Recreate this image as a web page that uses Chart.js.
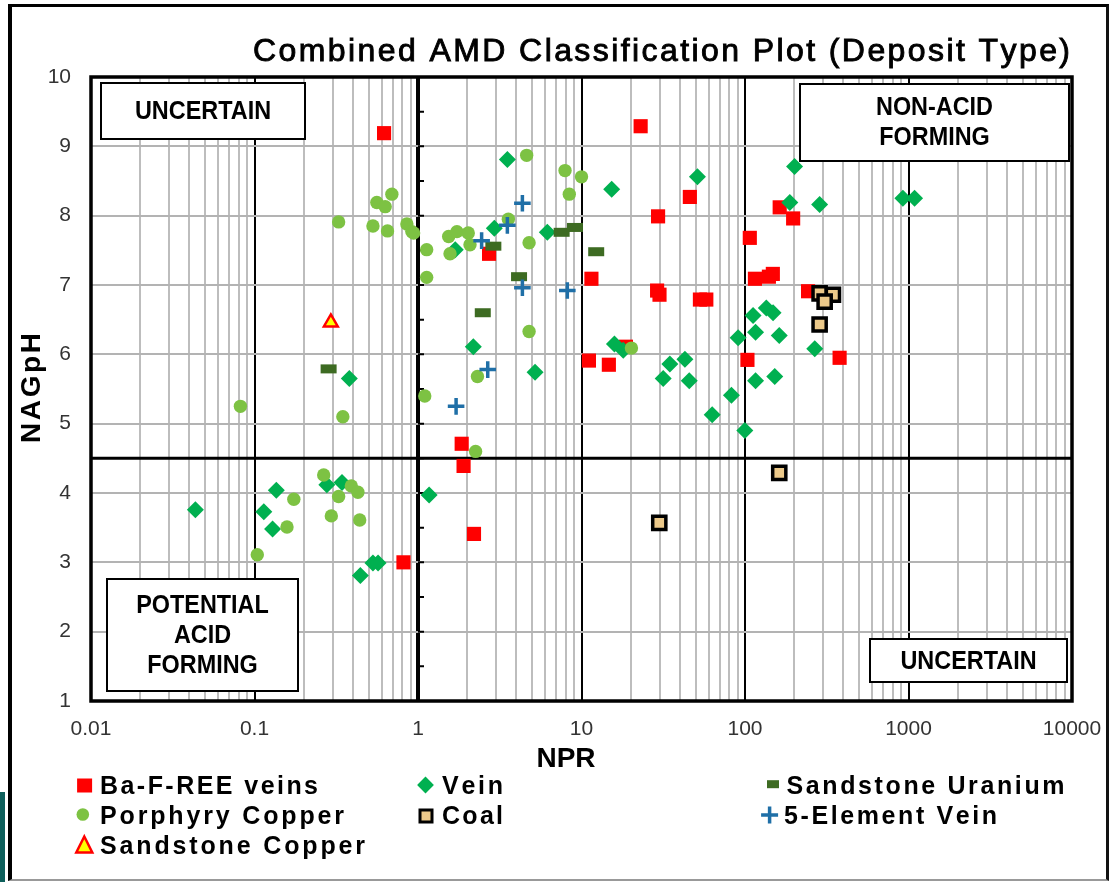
<!DOCTYPE html>
<html><head><meta charset="utf-8">
<script src="https://cdn.jsdelivr.net/npm/chart.js@4.4.0/dist/chart.umd.min.js"></script>
<style>
html,body{margin:0;padding:0;background:#fff;}
#wrap{position:relative;width:1112px;height:882px;overflow:hidden;background:#fff;}
#c{position:absolute;left:0;top:0;}
#frame{position:absolute;left:8px;top:4px;width:1094px;height:872px;border-left:4px solid #000;border-top:3px solid #000;border-right:3px solid #111;border-bottom:2px solid #999;pointer-events:none;}
#teal{position:absolute;left:0;top:792px;width:5px;height:90px;background:#0e5f5b;}
</style></head><body>
<div id="wrap"><canvas id="c" width="1112" height="882"></canvas><div id="frame"></div><div id="teal"></div></div>
<script>
// ---------- DATA (NPR, NAGpH) ----------
const xTickLabels = ['0.01','0.1','1','10','100','1000','10000'];
const yTickValues = [1,2,3,4,5,6,7,8,9,10];

const baFReeVeins = [[0.62,9.19],[23,9.29],[46,8.27],[29.4,7.99],[107,7.68],[163,8.12],[197,7.96],[115,7.09],[140,7.12],[148,7.16],[29,6.92],[30,6.86],[53,6.79],[58,6.79],[243,6.91],[11.5,7.09],[2.72,7.45],[11.1,5.91],[14.7,5.85],[18.7,6.11],[1.85,4.71],[1.9,4.39],[2.2,3.41],[0.815,3.0],[103.5,5.92],[379,5.95]];
const vein = [[3.52,8.81],[15.3,8.38],[2.93,7.82],[6.18,7.76],[1.69,7.51],[51.2,8.56],[201,8.71],[188,8.19],[286,8.16],[924,8.25],[1089,8.25],[135,6.67],[148.5,6.60],[112,6.56],[116,6.32],[162,6.27],[90.8,6.24],[267,6.08],[34.7,5.86],[42.9,5.93],[31.6,5.65],[45.6,5.62],[116,5.62],[152,5.68],[82.6,5.41],[63,5.13],[99.7,4.90],[2.18,6.11],[5.2,5.74],[15.9,6.15],[18,6.06],[0.38,5.65],[0.0435,3.76],[0.136,4.04],[0.114,3.73],[0.129,3.48],[0.277,4.12],[0.343,4.15],[0.53,2.99],[0.57,2.99],[0.444,2.81],[1.17,3.97]];
const sandstoneUranium = [[2.89,7.56],[4.15,7.12],[7.56,7.76],[9.12,7.83],[12.3,7.48],[2.49,6.60],[0.284,5.79]];
const porphyryCopper = [[0.327,7.91],[0.56,8.19],[0.63,8.13],[0.692,8.31],[0.53,7.85],[0.651,7.78],[0.855,7.88],[0.917,7.77],[0.94,7.75],[4.62,8.87],[7.93,8.65],[10.0,8.56],[8.42,8.31],[1.13,7.51],[1.13,7.11],[1.54,7.70],[1.73,7.77],[2.03,7.75],[1.57,7.45],[2.08,7.58],[3.57,7.95],[4.78,7.61],[4.78,6.33],[2.31,5.68],[1.10,5.40],[2.25,4.60],[20.2,6.09],[0.082,5.25],[0.347,5.10],[0.265,4.26],[0.174,3.91],[0.327,3.95],[0.391,4.10],[0.429,4.01],[0.295,3.67],[0.44,3.61],[0.158,3.51],[0.104,3.11]];
const coal = [[286,6.88],[345,6.86],[307,6.76],[286,6.43],[162,4.29],[29.9,3.57]];
const fiveElementVein = [[4.35,8.18],[3.52,7.86],[2.45,7.64],[4.35,6.96],[8.19,6.92],[2.67,5.78],[1.71,5.25]];
const sandstoneCopper = [[0.293,6.46]];

const seriesNames = ['Ba-F-REE veins','Vein','Sandstone Uranium','Porphyry Copper','Coal','5-Element Vein','Sandstone Copper'];
const seriesData = [baFReeVeins, vein, sandstoneUranium, porphyryCopper, coal, fiveElementVein, sandstoneCopper];
const titleText = 'Combined AMD Classification Plot (Deposit Type)';
const xTitle = 'NPR', yTitle = 'NAGpH';
const boundaryNPR = 1, boundaryNAG = 4.5;

// ---------- STYLE ----------
const styles = [
  {pointStyle:'rect', radius:10, bg:'#ff0000', border:'#ff0000', bw:0},
  {pointStyle:'rectRot', radius:8.5, bg:'#00b050', border:'#00b050', bw:0},
  {pointStyle:'line', radius:8, bg:'#3d6b22', border:'#3d6b22', bw:9},
  {pointStyle:'circle', radius:6.7, bg:'#7dc243', border:'#7dc243', bw:0},
  {pointStyle:'rect', radius:9.3, bg:'#ecc98a', border:'#000000', bw:3.5},
  {pointStyle:'cross', radius:8.3, bg:'#1f6fa7', border:'#1f6fa7', bw:3.5},
  {pointStyle:'triangle', radius:8, bg:'#ffff00', border:'#ff0000', bw:2.5}
];
const FONT = 'Liberation Sans, Arial, Helvetica, sans-serif';

function spaced(ctx, text, x, y, target, align, stroke){
  const chars = [...text];
  const w = chars.map(c => ctx.measureText(c).width);
  const nat = w.reduce((a,b)=>a+b,0);
  const ls = chars.length>1 ? (target-nat)/(chars.length-1) : 0;
  let cx = align==='center' ? x - target/2 : x;
  ctx.textAlign = 'left';
  chars.forEach((c,i)=>{ ctx.fillText(c, cx, y); if (stroke) ctx.strokeText(c, cx, y); cx += w[i]+ls; });
}

function marker(ctx, kind, x, y){
  ctx.save();
  ctx.lineJoin='miter';
  if (kind===0){ ctx.fillStyle='#ff0000'; ctx.fillRect(x-7.5,y-7,15,14); }
  else if (kind===1){ ctx.fillStyle='#00b050'; ctx.beginPath(); ctx.moveTo(x,y-8.4); ctx.lineTo(x+8.4,y); ctx.lineTo(x,y+8.4); ctx.lineTo(x-8.4,y); ctx.closePath(); ctx.fill(); }
  else if (kind===2){ ctx.fillStyle='#3d6b22'; ctx.fillRect(x-6,y-4,12,8); }
  else if (kind===3){ ctx.fillStyle='#7dc243'; ctx.beginPath(); ctx.arc(x,y,6.3,0,Math.PI*2); ctx.fill(); }
  else if (kind===4){ ctx.fillStyle='#ecc98a'; ctx.strokeStyle='#000'; ctx.lineWidth=3; ctx.fillRect(x-6,y-6,12,12); ctx.strokeRect(x-6,y-6,12,12); }
  else if (kind===5){ ctx.strokeStyle='#1f6fa7'; ctx.lineWidth=3.5; ctx.beginPath(); ctx.moveTo(x-8.5,y); ctx.lineTo(x+8.5,y); ctx.moveTo(x,y-8.5); ctx.lineTo(x,y+8.5); ctx.stroke(); }
  else if (kind===6){ ctx.fillStyle='#ffff00'; ctx.strokeStyle='#ff0000'; ctx.lineWidth=2.5; ctx.beginPath(); ctx.moveTo(x,y-8.5); ctx.lineTo(x+8,y+7.5); ctx.lineTo(x-8,y+7.5); ctx.closePath(); ctx.fill(); ctx.stroke(); }
  ctx.restore();
}

const decorations = {
  id:'decorations',
  beforeDatasetsDraw(chart){
    const ctx = chart.ctx, a = chart.chartArea, xs = chart.scales.x, ys = chart.scales.y;
    ctx.save();
    ctx.strokeStyle='#000';
    ctx.lineWidth=3;
    const yb = ys.getPixelForValue(boundaryNAG);
    ctx.beginPath(); ctx.moveTo(a.left,yb); ctx.lineTo(a.right,yb); ctx.stroke();
    const xb = xs.getPixelForValue(boundaryNPR);
    ctx.lineWidth=2;
    ctx.beginPath();
    for (let v=1; v<=10.001; v+=0.5){ const py=ys.getPixelForValue(v); ctx.moveTo(xb,py); ctx.lineTo(xb+6,py); }
    ctx.stroke();
    ctx.lineWidth=3.5;
    ctx.strokeRect(a.left, a.top, a.right-a.left, a.bottom-a.top);
    const boxes = [
      {r:[101,83,204,56], lines:['UNCERTAIN'], cy:[110]},
      {r:[800,84,269,77], lines:['NON-ACID','FORMING'], cy:[106,135.5]},
      {r:[107,579,191,112], lines:['POTENTIAL','ACID','FORMING'], cy:[603.5,633.5,663.5]},
      {r:[870,639,197,43], lines:['UNCERTAIN'], cy:[659.5]}
    ];
    boxes.forEach(b=>{
      ctx.fillStyle='#fff'; ctx.fillRect(...b.r);
      ctx.strokeStyle='#000'; ctx.lineWidth=2; ctx.strokeRect(...b.r);
      ctx.fillStyle='#000'; ctx.font='bold 26px '+FONT; ctx.textAlign='center'; ctx.textBaseline='alphabetic';
      const cx = b.r[0]+b.r[2]/2;
      b.lines.forEach((t,i)=>{ ctx.save(); ctx.translate(cx, b.cy[i]+9.3); ctx.scale(0.9,1); ctx.fillText(t,0,0); ctx.restore(); });
    });
    ctx.restore();
  },
  afterDraw(chart){
    const ctx = chart.ctx;
    ctx.save();
    ctx.fillStyle='#000'; ctx.strokeStyle='#000'; ctx.textBaseline='alphabetic';
    ctx.font='32px '+FONT;
    ctx.lineWidth=0.9;
    spaced(ctx, titleText, 253, 61, 817, 'left', true);
    ctx.font='bold 28px '+FONT;
    ctx.textAlign='center';
    ctx.fillText(xTitle, 566, 767);
    ctx.save(); ctx.translate(40, 388); ctx.rotate(-Math.PI/2);
    spaced(ctx, yTitle, 0, 0, 110, 'center');
    ctx.restore();
    const leg = [
      {mx:84.6, my:785.5, tx:100, ty:794, w:218},
      {mx:425.5, my:785, tx:442, ty:794, w:61},
      {mx:773, my:784.2, tx:786.5, ty:794, w:278},
      {mx:82.8, my:814.5, tx:100, ty:824, w:244},
      {mx:426, my:816, tx:442, ty:824, w:61},
      {mx:769.6, my:815, tx:784, ty:824, w:213},
      {mx:84.3, my:845, tx:100, ty:854, w:265}
    ];
    ctx.font='bold 25px '+FONT;
    leg.forEach((l,i)=>{
      marker(ctx, i, l.mx, l.my);
      ctx.fillStyle='#000';
      spaced(ctx, seriesNames[i], l.tx, l.ty, l.w, 'left');
    });
    ctx.restore();
  }
};

const decades = xTickLabels.map(Number);
const xGrid = [];
decades.forEach((d,i)=>{ if (i<decades.length-1){ for(let m=1;m<=9;m++) xGrid.push(d*m); } else xGrid.push(d); });

new Chart(document.getElementById('c'), {
  type:'scatter',
  data:{ datasets: seriesData.map((d,i)=>({
    label: seriesNames[i],
    data: d.map(p=>({x:p[0], y:p[1]})),
    pointStyle: styles[i].pointStyle,
    pointRadius: styles[i].radius,
    pointHoverRadius: styles[i].radius,
    pointBackgroundColor: styles[i].bg,
    pointBorderColor: styles[i].border,
    pointBorderWidth: styles[i].bw,
    showLine:false,
    order: seriesData.length - i
  }))},
  options:{
    responsive:false, animation:false, devicePixelRatio:1,
    layout:{ padding:{left:0, top:77, right:40, bottom:121} },
    plugins:{ legend:{display:false}, tooltip:{enabled:false}, title:{display:false} },
    scales:{
      x:{
        type:'logarithmic', min:decades[0], max:decades[decades.length-1],
        afterBuildTicks: s => { s.ticks = xGrid.map(v=>({value:v})); },
        afterFit: s => { s.height = 60; s.paddingLeft = 0; s.paddingRight = 0; },
        ticks:{ autoSkip:false, maxRotation:0, minRotation:0, padding:16, color:'#333',
          font:{family:FONT, size:21},
          callback:(v,i)=> i%9===0 ? xTickLabels[i/9] : '' },
        grid:{ drawTicks:false,
          color: c => (c.index%9===0) ? '#000' : '#bdbdbd',
          lineWidth: c => (c.index===18) ? 4 : 2 },
        border:{display:false}
      },
      y:{
        type:'linear', min:yTickValues[0], max:yTickValues[yTickValues.length-1],
        afterBuildTicks: s => { s.ticks = yTickValues.map(v=>({value:v})); },
        afterFit: s => { s.width = 91; s.paddingTop = 0; s.paddingBottom = 0; },
        ticks:{ padding:20, color:'#333', font:{family:FONT, size:21}, callback:v=>String(v) },
        grid:{ drawTicks:false, color:'#b3b3b3', lineWidth:2 },
        border:{display:false}
      }
    }
  },
  plugins:[decorations]
});
</script>
</body></html>
